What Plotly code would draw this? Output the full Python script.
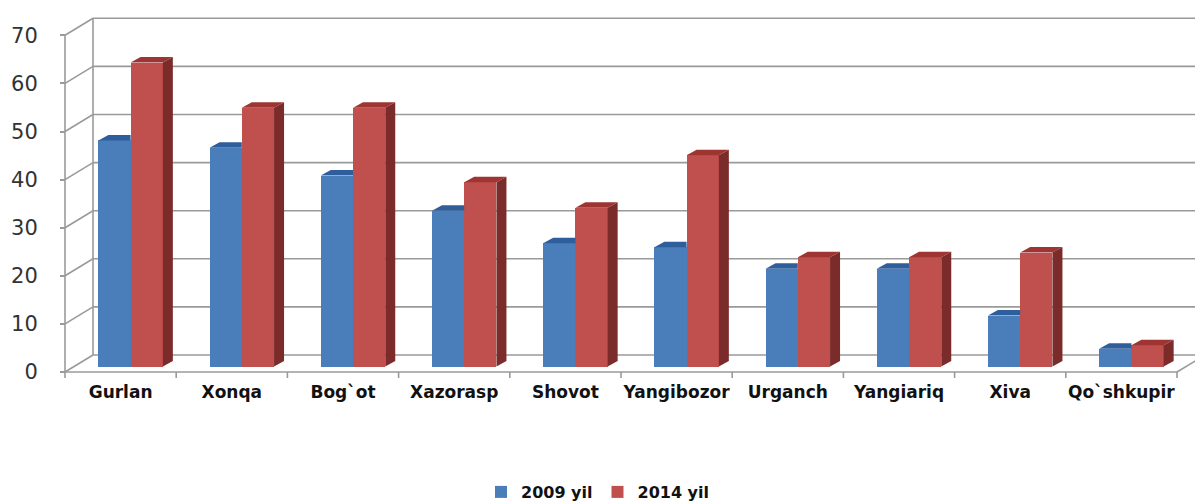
import plotly.graph_objects as go

# Data
districts = ["Gurlan", "Xonqa", "Bog`ot", "Xazorasp", "Shovot",
             "Yangibozor", "Urganch", "Yangiariq", "Xiva", "Qo`shkupir"]
vals_2009 = [47.0, 45.5, 39.7, 32.4, 25.6, 24.8, 20.3, 20.3, 10.6, 3.7]
vals_2014 = [63.2, 53.8, 53.8, 38.3, 33.0, 43.9, 22.7, 22.7, 23.7, 4.4]
y_ticks = [0, 10, 20, 30, 40, 50, 60, 70]
series_names = ["2009 yil", "2014 yil"]

# Page geometry (pixels)
W, H = 1195, 502
ML, MT = 60, 15
Y0_PX = 372          # pixel row of value 0 on the front axis
BOTTOM_PX = 375      # bottom of plot area
FRONT_X_PX = 65      # pixel column of the front value axis
CAT_PX = 111.2       # pixels per category
VAL_PX = 4.81        # pixels per value unit

plot_w = W - ML
plot_h = BOTTOM_PX - MT
x_min = -0.5 - (FRONT_X_PX - ML) / CAT_PX
x_max = x_min + plot_w / CAT_PX
y_min = -(BOTTOM_PX - Y0_PX) / VAL_PX
y_max = y_min + plot_h / VAL_PX

# pseudo-3D offsets
DX, DY = 28 / CAT_PX, 17 / VAL_PX        # wall depth
OX, OY = 10 / CAT_PX, 5.5 / VAL_PX       # bar front offset from front plane
BX, BY = 10 / CAT_PX, 5.5 / VAL_PX       # bar depth
BW = 0.29                                 # bar width (categories)

GRID = "#9a9a9a"
BLUE, BLUE_TOP = "#4A7EBB", "#2F5E9C"
RED, RED_TOP, RED_SIDE = "#C0504D", "#9E3532", "#7B2C2A"

n = len(districts)
x_blue = [i + OX - BW / 2 for i in range(n)]
x_red = [i + OX + BW / 2 for i in range(n)]

fig = go.Figure()

# front faces
fig.add_trace(go.Bar(x=x_blue, y=vals_2009, base=OY, width=BW, name=series_names[0],
                     marker=dict(color=BLUE, line=dict(width=0)), hoverinfo="y"))
fig.add_trace(go.Bar(x=x_red, y=vals_2014, base=OY, width=BW, name=series_names[1],
                     marker=dict(color=RED, line=dict(width=0)), hoverinfo="y"))


def poly_trace(xs, ys, color):
    return go.Scatter(x=xs, y=ys, mode="none", fill="toself", fillcolor=color,
                      showlegend=False, hoverinfo="skip")


# blue tops (clipped where the red bar stands in front)
bx, by = [], []
for xc, v in zip(x_blue, vals_2009):
    x0, x1, t = xc - BW / 2, xc + BW / 2, OY + v
    bx += [x0, x0 + BX, x1, x1, None]
    by += [t, t + BY, t + BY, t, None]
fig.add_trace(poly_trace(bx, by, BLUE_TOP))

# red tops and sides
tx, ty, sx, sy = [], [], [], []
for xc, v in zip(x_red, vals_2014):
    x0, x1, t = xc - BW / 2, xc + BW / 2, OY + v
    tx += [x0, x0 + BX, x1 + BX, x1, None]
    ty += [t, t + BY, t + BY, t, None]
    sx += [x1, x1 + BX, x1 + BX, x1, None]
    sy += [t, t + BY, OY + BY, OY, None]
fig.add_trace(poly_trace(tx, ty, RED_TOP))
fig.add_trace(poly_trace(sx, sy, RED_SIDE))

# walls and floor drawn beneath the bars
shapes = []
line = dict(color=GRID, width=1.6)
left = -0.5
right = n - 0.5
for v in y_ticks:
    shapes.append(dict(type="line", layer="below", xref="x", yref="y",
                       x0=left + DX, y0=v + DY, x1=x_max, y1=v + DY, line=line))
    shapes.append(dict(type="line", layer="below", xref="x", yref="y",
                       x0=left, y0=v, x1=left + DX, y1=v + DY, line=line))
shapes.append(dict(type="line", layer="below", xref="x", yref="y",
                   x0=left + DX, y0=DY, x1=left + DX, y1=y_ticks[-1] + DY, line=line))
shapes.append(dict(type="line", layer="below", xref="x", yref="y",
                   x0=left, y0=0, x1=left, y1=y_ticks[-1], line=line))
shapes.append(dict(type="line", layer="below", xref="x", yref="y",
                   x0=left, y0=0, x1=right, y1=0, line=line))
shapes.append(dict(type="line", layer="below", xref="x", yref="y",
                   x0=right, y0=0, x1=right + DX, y1=DY, line=line))
# category boundary tick marks under the floor edge
for k in range(n + 1):
    xb = left + k
    shapes.append(dict(type="line", layer="below", xref="x", yref="paper",
                       x0=xb, y0=(BOTTOM_PX - Y0_PX) / plot_h,
                       x1=xb, y1=(BOTTOM_PX - Y0_PX - 6) / plot_h, line=line))

fig.update_layout(
    width=W, height=H,
    margin=dict(l=ML, r=0, t=MT, b=H - BOTTOM_PX, pad=0, autoexpand=False),
    plot_bgcolor="white", paper_bgcolor="white",
    barmode="overlay", bargap=0,
    shapes=shapes,
    showlegend=True,
    legend=dict(orientation="h", x=0.5 - 30 / plot_w, xanchor="center",
                y=-(492 - BOTTOM_PX) / plot_h, yanchor="middle",
                font=dict(family="DejaVu Sans", size=16, color="#111", weight="bold"),
                itemwidth=30, bgcolor="rgba(0,0,0,0)"),
    xaxis=dict(range=[x_min, x_max], tickvals=list(range(n)), ticktext=districts,
               ticks="", showgrid=False, zeroline=False, showline=False,
               tickfont=dict(family="DejaVu Sans", size=17, color="#111", weight="bold"),
               ticklabelstandoff=5, fixedrange=True),
    yaxis=dict(range=[y_min, y_max], tickvals=y_ticks, ticks="outside", ticklen=5,
               tickwidth=1.6, tickcolor=GRID, showgrid=False, zeroline=False,
               showline=False, anchor="free",
               position=(FRONT_X_PX - ML) / plot_w,
               tickfont=dict(family="DejaVu Sans", size=21, color="#333"),
               ticklabelstandoff=18, fixedrange=True),
)

# drop the browser's default body margin so the figure sits at the page corner
fig.write_html("out.html", config={"displayModeBar": False},
               post_script="document.body.style.margin='0';")
